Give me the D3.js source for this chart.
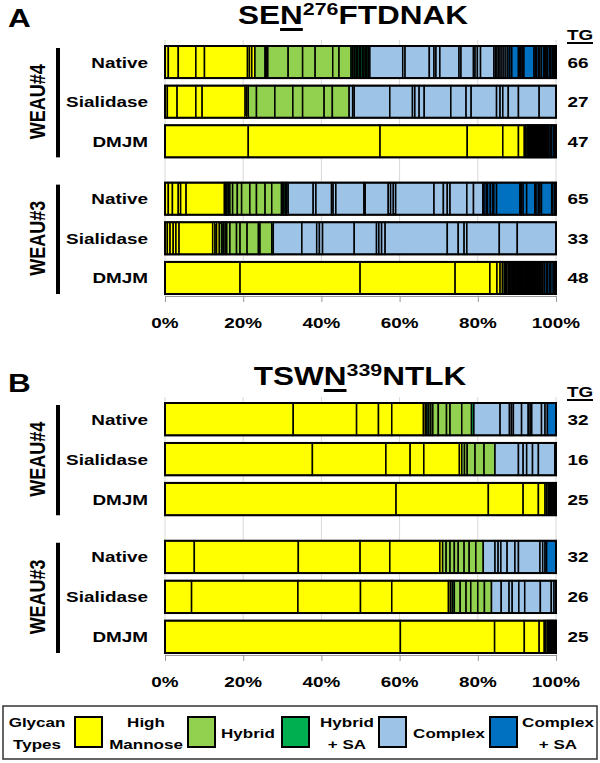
<!DOCTYPE html>
<html>
<head>
<meta charset="utf-8">
<script src="https://cdn.jsdelivr.net/npm/d3@7"></script>
<style>
  body { margin: 0; background: #fff; }
  text { font-family: "Liberation Sans", Arial, sans-serif; font-weight: bold; fill: #000; }
</style>
</head>
<body>
<script>
// glycan type codes: H high mannose, Y hybrid, S hybrid + SA, C complex, D complex + SA
var groups = ["WEAU#4", "WEAU#3"];
var treatments = ["Native", "Sialidase", "DMJM"];
var tickValues = [0, 20, 40, 60, 80, 100];

// panel A  SEN276FTDNAK, % of each glycoform, left to right
var aW4Native = [["H",0.85],["H",2.55],["H",4.5],["H",2.2],["H",11.0],["H",0.5],["H",0.6],["H",0.8],
  ["Y",2.6],["Y",0.35],["Y",0.35],["Y",5.2],["Y",3.7],["Y",3.2],["Y",4.5],["Y",1.6],["Y",3.1],
  ["S",0.4],["Y",0.4],["S",0.5],["S",0.3],["S",0.5],["Y",0.3],["S",0.5],["S",0.4],["S",0.4],["Y",0.3],["S",0.4],
  ["C",0.4],["C",8.4],["C",0.6],["C",6.2],["C",1.2],["C",0.5],["C",1.0],["C",4.9],["C",0.5],["C",3.2],["C",0.4],["C",0.6],["C",0.8],["C",3.4],
  ["C",0.4],["C",0.4],["C",0.4],["C",0.4],["C",0.5],["C",0.5],["C",0.5],["C",0.5],["D",0.5],["D",0.5],
  ["D",1.7],["D",0.3],["C",0.3],["D",0.4],["D",0.4],["D",2.6],
  ["D",0.4],["C",0.3],["D",0.5],["D",0.3],["C",0.4],["D",0.6],["D",0.3],["C",0.3],["D",0.4],["D",0.5],["C",0.3],["D",0.4],["D",0.3],["C",0.3],["D",0.3]];
var aW4Sialidase = [["H",0.6],["H",2.5],["H",4.8],["H",1.6],["H",11.0],["H",0.4],["H",0.4],
  ["Y",2.1],["Y",4.7],["Y",4.6],["Y",2.5],["Y",5.5],["Y",2.1],["Y",4.3],
  ["C",0.9],["C",0.4],["C",9.1],["C",5.8],["C",0.6],["C",1.1],["C",1.3],["C",6.8],["C",3.9],["C",1.3],["C",6.5],["C",0.9],["C",0.7],["C",1.4],["C",2.6],["C",5.3],["C",4.3]];
var aW4Dmjm = [["H",21.3],["H",33.7],["H",22.3],["H",9.1],["H",4.0],["H",1.5],["H",0.3],["Y",0.4],
  ["H",0.2],["H",0.2],["Y",0.2],["H",0.2],["Y",0.2],["S",0.2],["H",0.2],["Y",0.2],["C",0.2],["Y",0.2],
  ["H",0.2],["S",0.2],["Y",0.2],["C",0.2],["Y",0.2],["S",0.2],["C",0.2],["H",0.2],["Y",0.2],["C",0.2],
  ["S",0.2],["C",0.2],["Y",0.2],["C",0.2],["D",0.2],["C",0.2],["Y",0.2],["C",0.2],
  ["D",0.4],["C",0.3],["D",0.5],["C",0.2],["D",0.4]];
var aW3Native = [["H",0.85],["H",1.05],["H",1.5],["H",0.6],["H",1.4],["H",9.8],
  ["H",0.3],["Y",0.3],["S",0.4],["Y",0.4],
  ["Y",0.7],["Y",1.2],["Y",1.1],["Y",2.1],["Y",1.7],["Y",2.2],["Y",1.7],["Y",2.5],
  ["S",0.3],["Y",0.3],["S",0.4],["S",0.3],["C",0.4],
  ["C",6.4],["C",0.7],["C",4.0],["C",0.4],["C",0.7],["C",7.2],["C",0.3],["C",5.9],["C",0.6],["C",0.7],["C",0.6],["C",9.8],["C",2.4],["C",1.0],["C",0.7],["C",4.3],["C",1.7],["C",2.4],
  ["D",0.3],["D",0.6],["C",0.3],["D",0.7],["D",0.6],["C",0.3],["D",0.7],["D",6.0],["C",0.3],["D",0.5],["D",0.9],["D",2.1],["C",0.3],["D",0.6],["D",0.4],["D",0.4],["D",2.6],["C",0.3],["D",0.5],["D",0.3]];
var aW3Sialidase = [["H",0.6],["H",0.7],["H",0.8],["H",0.7],["H",0.8],["H",8.6],
  ["H",0.6],["Y",0.4],["H",0.7],["Y",0.6],["S",0.4],["Y",0.5],["Y",0.4],
  ["Y",0.8],["Y",1.7],["Y",0.9],["Y",1.8],["Y",2.9],["Y",0.4],["Y",3.0],["S",0.4],
  ["C",7.3],["C",3.8],["C",0.7],["C",0.8],["C",8.1],["C",5.7],["C",0.6],["C",0.7],["C",0.9],["C",15.9],["C",2.8],["C",1.5],["C",0.7],["C",8.3],["C",4.6],["C",9.9]];
var aW3Dmjm = [["H",19.2],["H",30.7],["H",24.3],["H",8.9],["H",1.8],["H",0.8],["H",0.6],["Y",0.5],
  ["H",0.3],["Y",0.3],["Y",0.4],["H",0.3],["S",0.3],["Y",0.3],["H",0.3],["Y",0.3],["C",0.3],["Y",0.4],
  ["S",0.3],["Y",0.3],["C",0.3],["H",0.3],["Y",0.3],["S",0.3],["C",0.3],["Y",0.3],["C",0.3],["S",0.3],
  ["Y",0.3],["C",0.3],["H",0.3],["C",0.3],["Y",0.3],["C",0.3],["S",0.3],["C",0.3],["Y",0.3],["C",0.3],
  ["C",0.4],["Y",0.3],["C",0.4],["D",0.5],["C",0.3],["D",0.5],["C",0.3],["D",0.6],["C",0.3],["D",0.4]];
var tgA = [66, 27, 47, 65, 33, 48];

// panel B  TSWN339NTLK
var bW4Native = [["H",32.8],["H",16.2],["H",5.6],["H",3.4],["H",8.1],
  ["H",0.5],["Y",0.4],["S",0.5],["Y",0.5],["Y",0.5],
  ["Y",1.4],["Y",2.1],["Y",0.9],["Y",3.0],["Y",2.5],["S",0.6],
  ["C",6.7],["C",2.4],["C",0.5],["C",0.5],["C",2.1],["C",1.7],["C",0.5],["C",0.4],["C",2.5],["C",0.9],["C",0.6],["D",2.2]];
var bW4Sialidase = [["H",37.7],["H",18.8],["H",6.2],["H",3.5],["H",9.1],
  ["H",0.6],["Y",0.7],["Y",0.7],["Y",2.0],["Y",2.3],["Y",2.8],
  ["C",6.0],["C",1.2],["C",0.9],["C",1.5],["C",1.5],["C",4.2],["C",0.3]];
var bW4Dmjm = [["H",59.1],["H",23.6],["H",8.9],["H",3.9],["H",1.7],["Y",0.4],["H",0.4],
  ["H",0.2],["Y",0.2],["H",0.2],["S",0.2],["Y",0.2],["H",0.2],["C",0.2],["Y",0.2],["C",0.2],["D",0.2]];
var bW3Native = [["H",7.5],["H",26.6],["H",15.8],["H",7.6],["H",12.8],
  ["H",0.7],["Y",0.9],
  ["Y",1.0],["Y",1.1],["Y",1.0],["Y",1.5],["Y",1.3],["Y",1.7],["Y",1.9],
  ["C",3.0],["C",0.8],["C",0.7],["C",1.6],["C",2.0],["C",0.9],["C",5.5],["C",0.7],["C",0.6],["D",0.4],["D",2.4]];
var bW3Sialidase = [["H",6.8],["H",27.2],["H",16.0],["H",8.0],["H",14.5],
  ["H",0.5],["Y",0.5],["S",0.5],
  ["Y",1.5],["Y",1.5],["Y",1.2],["Y",1.8],["Y",1.7],["Y",1.8],
  ["C",2.5],["C",2.0],["C",0.8],["C",1.7],["C",1.5],["C",4.0],["C",2.8],["C",0.7],["C",0.5]];
var bW3Dmjm = [["H",60.2],["H",24.1],["H",7.6],["H",3.8],["H",1.3],["Y",0.4],["H",0.4],
  ["H",0.2],["Y",0.2],["H",0.2],["S",0.2],["Y",0.2],["C",0.2],["H",0.2],["Y",0.2],["C",0.2],["D",0.2],["C",0.2]];
var tgB = [32, 16, 25, 32, 26, 25];

var legendKeys = ["H", "Y", "S", "C", "D"];
var legendNames = [["High", "Mannose"], ["Hybrid"], ["Hybrid", "+ SA"], ["Complex"], ["Complex", "+ SA"]];
var colors = {H: "#FFFF00", Y: "#92D050", S: "#00B050", C: "#9DC3E6", D: "#0070C0"};

var w = 600, h = 763;
var SX = 1.26; // the source figure's lettering is stretched sideways

var svg = d3.select("body").append("svg")
  .attr("width", w)
  .attr("height", h);

var x = d3.scaleLinear().domain([0, 100]).range([165, 556]);

function label(parent, px, py, s, size, anchor) {
  return parent.append("text")
    .attr("transform", "translate(" + px + "," + py + ") scale(" + SX + ",1)")
    .attr("text-anchor", anchor || "middle")
    .attr("font-size", size)
    .text(s);
}

function title(px, py, pre, site, num, post) {
  var g = svg.append("g").attr("transform", "translate(" + px + "," + py + ") scale(" + SX + ",1)");
  var t = g.append("text").attr("text-anchor", "middle").attr("font-size", 25);
  t.append("tspan").text(pre);
  t.append("tspan").text(site);
  t.append("tspan").attr("font-size", 17).attr("dy", -9).text(num);
  t.append("tspan").attr("dy", 9).text(post);
  // thick underline under the glycosylated N
  var node = t.node();
  var s = node.getStartPositionOfChar(pre.length);
  var e = node.getEndPositionOfChar(pre.length);
  g.append("rect").attr("x", s.x).attr("y", 4).attr("width", e.x - s.x).attr("height", 3).attr("fill", "#000");
}

function plot(p) {
  var yOuter = d3.scaleBand().domain(groups).range([p.top, p.bottom]).paddingInner(0.185);
  var yInner = d3.scaleBand().domain(treatments).range([0, yOuter.bandwidth()]).paddingInner(0.19);
  var chart = svg.append("g");

  // vertical gridlines
  chart.selectAll(".grid")
    .data(tickValues)
    .enter().append("line")
    .attr("x1", function(d){ return x(d); })
    .attr("x2", function(d){ return x(d); })
    .attr("y1", p.top - 6)
    .attr("y2", p.bottom + 2)
    .attr("stroke", "#d9d9d9")
    .attr("stroke-width", 1);

  var axis = chart.append("g")
    .attr("transform", "translate(0," + (p.bottom + 2) + ")")
    .call(d3.axisBottom(x).tickValues(tickValues).tickSize(6).tickFormat(""));
  axis.select(".domain").attr("stroke", "#999");
  axis.selectAll(".tick line").attr("stroke", "#999");
  tickValues.forEach(function(d){
    label(chart, x(d), p.bottom + 34, d + "%", 15);
  });

  p.rows.forEach(function(segs, i) {
    var grp = groups[Math.floor(i / 3)];
    var tr = treatments[i % 3];
    var y0 = yOuter(grp) + yInner(tr);
    var bh = yInner.bandwidth();
    var ends = d3.cumsum(segs, function(d){ return d[1]; });
    var row = chart.append("g");
    row.selectAll("rect")
      .data(segs)
      .enter().append("rect")
      .attr("x", function(d, j){ return x(ends[j] - d[1]); })
      .attr("width", function(d){ return x(d[1]) - x(0); })
      .attr("y", y0)
      .attr("height", bh)
      .attr("fill", function(d){ return colors[d[0]]; })
      .attr("stroke", "#000")
      .attr("stroke-width", 1.5);
    row.append("rect")
      .attr("x", x(0)).attr("y", y0)
      .attr("width", x(100) - x(0)).attr("height", bh)
      .attr("fill", "none").attr("stroke", "#000").attr("stroke-width", 2);
    label(chart, 148, y0 + bh / 2 + 5.5, tr, 15, "end");
    label(chart, 578, y0 + bh / 2 + 5.5, p.tg[i], 15);
  });

  groups.forEach(function(grp) {
    var gy = yOuter(grp);
    chart.append("rect")
      .attr("x", 56).attr("y", gy + 2)
      .attr("width", 4).attr("height", yOuter.bandwidth() - 2)
      .attr("fill", "#000");
    chart.append("text")
      .attr("transform", "translate(45," + (gy + yOuter.bandwidth() / 2) + ") rotate(-90) scale(1," + SX + ")")
      .attr("text-anchor", "middle")
      .attr("font-size", 18)
      .text(grp);
  });

  // TG header
  label(chart, 580, p.top - 6, "TG", 15);
  chart.append("rect").attr("x", 567).attr("y", p.top - 4).attr("width", 26).attr("height", 2).attr("fill", "#000");
  label(chart, 8, p.letterY, p.letter, 25, "start");
}

title(353, 24, "SE", "N", "276", "FTDNAK");
title(360, 385, "TSW", "N", "339", "NTLK");

plot({letter: "A", letterY: 27, top: 46, bottom: 294,
  rows: [aW4Native, aW4Sialidase, aW4Dmjm, aW3Native, aW3Sialidase, aW3Dmjm], tg: tgA});
plot({letter: "B", letterY: 392, top: 403, bottom: 653,
  rows: [bW4Native, bW4Sialidase, bW4Dmjm, bW3Native, bW3Sialidase, bW3Dmjm], tg: tgB});

// legend
var legend = svg.append("g");
legend.append("rect")
  .attr("x", 3).attr("y", 706).attr("width", 594).attr("height", 53)
  .attr("fill", "#fff").attr("stroke", "#333").attr("stroke-width", 1.5);
label(legend, 37, 727, "Glycan", 13.5);
label(legend, 37, 749, "Types", 13.5);
var swatchX = [75, 188, 282, 379, 490];
var nameX = [146, 248, 347, 449, 558];
legendKeys.forEach(function(k, i) {
  legend.append("rect")
    .attr("x", swatchX[i]).attr("y", 717)
    .attr("width", 27).attr("height", 30)
    .attr("fill", colors[k]).attr("stroke", "#000").attr("stroke-width", 2);
  var lines = legendNames[i];
  lines.forEach(function(s, j) {
    var ly = lines.length === 1 ? 738 : 727 + j * 22;
    label(legend, nameX[i], ly, s, 13.5);
  });
});
</script>
</body>
</html>
